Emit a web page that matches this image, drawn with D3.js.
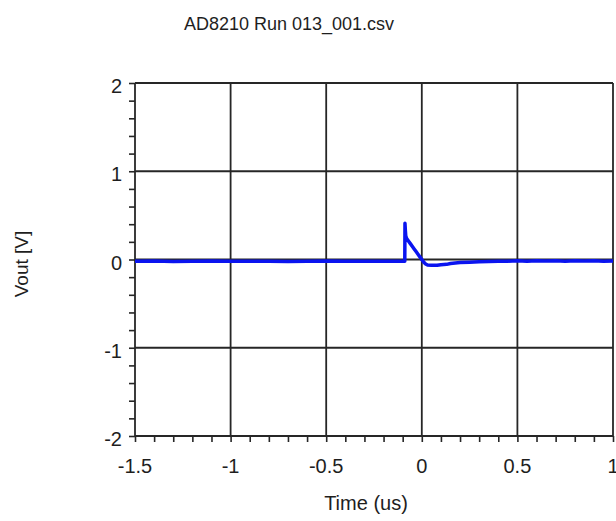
<!DOCTYPE html>
<html>
<head>
<meta charset="utf-8">
<script src="https://cdn.jsdelivr.net/npm/d3@7"></script>
<style>
  body { margin: 0; background: #fff; }
  svg { display: block; font-family: "Liberation Sans", Arial, sans-serif; }
</style>
</head>
<body>
<svg width="616" height="521"></svg>
<script>
/* Data */
const titleText = 'AD8210 Run 013_001.csv';
const xTicks = [-1.5, -1, -0.5, 0, 0.5, 1];
const yTicks = [-2, -1, 0, 1, 2];
const timeUs = [-1.5, -1.4, -1.3, -1.2, -1.1, -1.0, -0.9, -0.8, -0.7, -0.6, -0.5, -0.4, -0.3, -0.2, -0.1,
  -0.089, -0.088, -0.086, -0.084, -0.08, -0.07, -0.06, -0.05, -0.04, -0.03, -0.02, -0.01, 0.0, 0.01,
  0.02, 0.03, 0.05, 0.08, 0.1, 0.13, 0.15, 0.2, 0.25, 0.3, 0.35, 0.4, 0.45, 0.5, 0.55, 0.6, 0.65,
  0.7, 0.75, 0.8, 0.85, 0.9, 0.95, 1.0];
const vout = [-0.02, -0.018, -0.022, -0.02, -0.017, -0.021, -0.02, -0.019, -0.022, -0.02, -0.018, -0.021, -0.02, -0.019, -0.021,
  -0.02, 0.41, 0.33, 0.27, 0.24, 0.21, 0.18, 0.15, 0.12, 0.09, 0.06, 0.03, 0.0, -0.03,
  -0.05, -0.062, -0.066, -0.065, -0.06, -0.055, -0.045, -0.035, -0.03, -0.025, -0.022, -0.02, -0.019, -0.015, -0.02, -0.014, -0.018,
  -0.013, -0.02, -0.015, -0.018, -0.014, -0.02, -0.018];

/* Layout */
const svg = d3.select('svg');
const margin = { top: 83, left: 135, bottom: 436, right: 613 };

const x = d3.scaleLinear().domain([-1.5, 1]).range([margin.left, margin.right]);
const y = d3.scaleLinear().domain([-2, 2]).range([margin.bottom, margin.top]);

const gridColor = '#262626';
const textColor = '#1e1e1e';

/* Title */
svg.append('text')
  .attr('x', 289).attr('y', 30)
  .attr('text-anchor', 'middle')
  .attr('font-size', 18)
  .attr('fill', textColor)
  .text(titleText);

/* Minor ticks */
const xAxis = d3.axisBottom(x)
  .tickValues(d3.range(-15, 11).map(d => d / 10))
  .tickSize(6).tickFormat('');
svg.append('g')
  .attr('transform', `translate(0,${margin.bottom})`)
  .call(xAxis)
  .call(g => g.select('.domain').remove())
  .selectAll('line').attr('stroke', gridColor).attr('stroke-width', 1.6);

const yAxis = d3.axisLeft(y)
  .tickValues(d3.range(-10, 11).map(d => d / 5))
  .tickSize(6).tickFormat('');
svg.append('g')
  .attr('transform', `translate(${margin.left},0)`)
  .call(yAxis)
  .call(g => g.select('.domain').remove())
  .selectAll('line').attr('stroke', gridColor).attr('stroke-width', 1.6);

/* Grid */
const grid = svg.append('g');
grid.selectAll('line.gx').data(xTicks).enter().append('line')
  .attr('x1', d => x(d)).attr('x2', d => x(d))
  .attr('y1', margin.top).attr('y2', margin.bottom)
  .attr('stroke', gridColor).attr('stroke-width', 1.8);
grid.selectAll('line.gy').data(yTicks).enter().append('line')
  .attr('x1', margin.left).attr('x2', margin.right)
  .attr('y1', d => y(d)).attr('y2', d => y(d))
  .attr('stroke', gridColor).attr('stroke-width', 1.8);

/* Tick labels */
svg.append('g').selectAll('text').data(xTicks).enter().append('text')
  .attr('x', d => x(d)).attr('y', 473)
  .attr('text-anchor', 'middle')
  .attr('font-size', 20)
  .attr('fill', textColor)
  .text(d => d);
svg.append('g').selectAll('text').data(yTicks).enter().append('text')
  .attr('x', 122).attr('y', d => y(d) + 10)
  .attr('text-anchor', 'end')
  .attr('font-size', 20)
  .attr('fill', textColor)
  .text(d => d);

/* Axis titles */
svg.append('text')
  .attr('x', 366).attr('y', 510)
  .attr('text-anchor', 'middle')
  .attr('font-size', 20)
  .attr('fill', textColor)
  .text('Time (us)');
svg.append('text')
  .attr('transform', 'translate(28,264) rotate(-90)')
  .attr('text-anchor', 'middle')
  .attr('font-size', 19)
  .attr('fill', textColor)
  .text('Vout [V]');

/* Trace */
const line = d3.line()
  .x((d, i) => x(timeUs[i]))
  .y(d => y(d));
svg.append('path')
  .datum(vout)
  .attr('fill', 'none')
  .attr('stroke', '#0a14f0')
  .attr('stroke-width', 3.5)
  .attr('stroke-linejoin', 'round')
  .attr('d', line);
</script>
</body>
</html>
